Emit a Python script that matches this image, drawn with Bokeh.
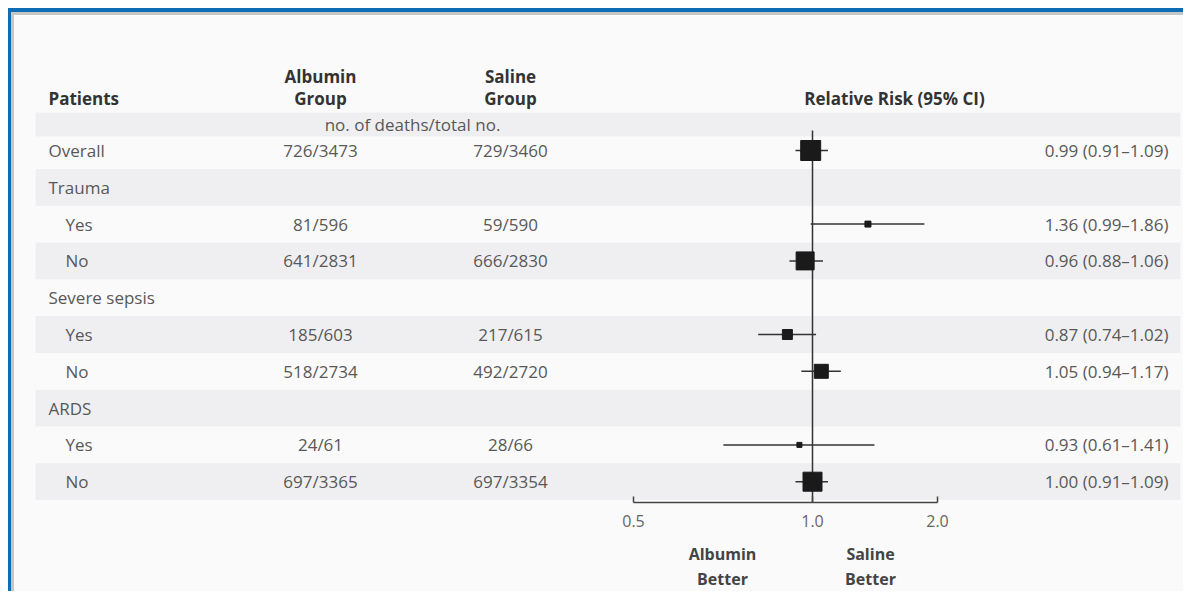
import math
from bokeh.plotting import figure
from bokeh.layouts import column
from bokeh.models import Range1d, LogScale, LogAxis, LinearAxis, FixedTicker, ColumnDataSource
from bokeh.core.properties import value
from bokeh.embed import file_html
from bokeh.resources import INLINE

# ---------------- data ----------------
patients = ["Overall", "Trauma", "Yes", "No", "Severe sepsis", "Yes", "No", "ARDS", "Yes", "No"]
is_subgroup = [False, False, True, True, False, True, True, False, True, True]
albumin_group = ["726/3473", "", "81/596", "641/2831", "", "185/603", "518/2734", "", "24/61", "697/3365"]
saline_group = ["729/3460", "", "59/590", "666/2830", "", "217/615", "492/2720", "", "28/66", "697/3354"]
relative_risk = [0.99, None, 1.36, 0.96, None, 0.87, 1.05, None, 0.93, 1.00]
ci_lower = [0.91, None, 0.99, 0.88, None, 0.74, 0.94, None, 0.61, 0.91]
ci_upper = [1.09, None, 1.86, 1.06, None, 1.02, 1.17, None, 1.41, 1.09]
rr_text = ["0.99 (0.91\u20131.09)", "", "1.36 (0.99\u20131.86)", "0.96 (0.88\u20131.06)", "",
           "0.87 (0.74\u20131.02)", "1.05 (0.94\u20131.17)", "", "0.93 (0.61\u20131.41)", "1.00 (0.91\u20131.09)"]
marker_size_px = [20, None, 6, 18, None, 10, 14, None, 5, 19]
axis_tick_labels = ["0.5", "1.0", "2.0"]
favour_labels = ["Albumin\nBetter", "Saline\nBetter"]

# ---------------- layout constants (picture pixels) ----------------
FONT = "Open Sans"
FS = "17px"
W, H = 1172, 579
LEFT, TOP = 14, 15          # picture position of the frame's top-left corner
AXIS_Y = 502                # picture y of the axis line (frame bottom)
ROW0_Y, ROW_STEP = 150, 36.8
X_ONE, PX_PER_DOUBLING = 812, 125
AXIS_LEFT_PX = 633          # where the original figure draws its "0.5" tick
FAVOUR_X = [722, 870]

def row(py):
    return (py - ROW0_Y) / ROW_STEP

def rr_at(px):
    return 2 ** ((px - X_ONE) / PX_PER_DOUBLING)

BG = "#fafafa"
BAND = "#efeff1"
TXT = "#585858"
HDR = "#333333"

p = figure(width=W, height=H,
           x_range=Range1d(LEFT, LEFT + W),
           y_range=Range1d(row(AXIS_Y), row(TOP)),
           x_axis_type=None, y_axis_type=None,
           output_backend="svg", toolbar_location=None,
           min_border_left=0, min_border_right=0, min_border_top=0,
           min_border_bottom=H - (AXIS_Y - TOP),
           background_fill_color=BG, border_fill_color=BG, outline_line_color=None)
p.extra_x_ranges = {"rr": Range1d(rr_at(LEFT), rr_at(LEFT + W))}
p.extra_x_scales = {"rr": LogScale()}

# ---- shaded bands ----
n = len(patients)
band_rows = [i for i in range(n) if i % 2 == 1]
p.quad(left=35, right=1180, top=[row(112)] + [i - 0.5 for i in band_rows],
       bottom=[row(136)] + [i + 0.5 for i in band_rows],
       fill_color=BAND, line_color=None)

def txt(x, y, t, align="left", color=TXT, style="normal"):
    p.text(x=x, y=y, text=t, text_font=value(FONT), text_font_size=FS,
           text_color=color, text_align=align, text_baseline="middle", text_font_style=style)

# ---- headers ----
ALB_X, SAL_X = 320, 510
hy1, hy2 = row(76), row(98)
txt([48], [hy2], ["Patients"], color=HDR, style="bold")
txt([ALB_X, ALB_X, SAL_X, SAL_X], [hy1, hy2, hy1, hy2], ["Albumin", "Group", "Saline", "Group"],
    align="center", color=HDR, style="bold")
txt([894], [hy2], ["Relative Risk (95% CI)"], align="center", color=HDR, style="bold")
txt([412], [row(124)], ["no. of deaths/total no."], align="center")

# ---- table rows ----
ys = list(range(n))
txt([65 if s else 48 for s in is_subgroup], ys, patients)
txt([ALB_X] * n, ys, albumin_group, align="center")
txt([SAL_X] * n, ys, saline_group, align="center")
txt([1168] * n, ys, rr_text, align="right")

# ---- forest ----
idx = [i for i in range(n) if relative_risk[i] is not None]
src = ColumnDataSource(dict(
    y=idx,
    rr=[relative_risk[i] for i in idx],
    lo=[ci_lower[i] for i in idx],
    hi=[ci_upper[i] for i in idx],
    size=[marker_size_px[i] for i in idx],
))
p.segment(x0=1.0, x1=1.0, y0=row(130), y1=row(AXIS_Y), x_range_name="rr",
          line_color="#333333", line_width=1.5)
p.segment(x0="lo", x1="hi", y0="y", y1="y", source=src, x_range_name="rr",
          line_color="#333333", line_width=1.5)
p.scatter(x="rr", y="y", size="size", marker="square", source=src, x_range_name="rr",
          fill_color="#1a1a1a", line_color="#1a1a1a")

# ---- axis ----
left_tick = rr_at(AXIS_LEFT_PX)
ticks = [left_tick, 1.0, 2.0]
ax = LogAxis(x_range_name="rr", ticker=FixedTicker(ticks=ticks), bounds=(left_tick, 2.0),
             major_label_overrides={t: l for t, l in zip(ticks, axis_tick_labels)},
             major_tick_in=6, major_tick_out=0, minor_tick_line_color=None,
             axis_line_color="#444444", axis_line_width=1.5,
             major_tick_line_color="#444444", major_tick_line_width=1.5,
             major_label_text_font=FONT, major_label_text_font_size="16px",
             major_label_text_color="#666666", major_label_standoff=12)
p.add_layout(ax, "below")

fav = LinearAxis(ticker=FixedTicker(ticks=FAVOUR_X),
                 major_label_overrides={x: l for x, l in zip(FAVOUR_X, favour_labels)},
                 axis_line_color=None, major_tick_line_color=None, minor_tick_line_color=None,
                 major_tick_in=0, major_tick_out=0,
                 major_label_text_font=FONT, major_label_text_font_size="16px",
                 major_label_text_font_style="bold", major_label_text_color="#444444",
                 major_label_text_line_height=1.15, major_label_standoff=13)
p.add_layout(fav, "below")

p.styles = {"border-top": "3px solid #c6c6c6", "border-left": "3px solid #c6c6c6"}
framed = column(p, styles={"border-top": "4px solid #0c6db5", "border-left": "3px solid #0c6db5"})
outer = column(framed, styles={"border-top": "8px solid #fefefe", "border-left": "8px solid #fefefe"})

open("out.html", "w").write(file_html(outer, INLINE))
